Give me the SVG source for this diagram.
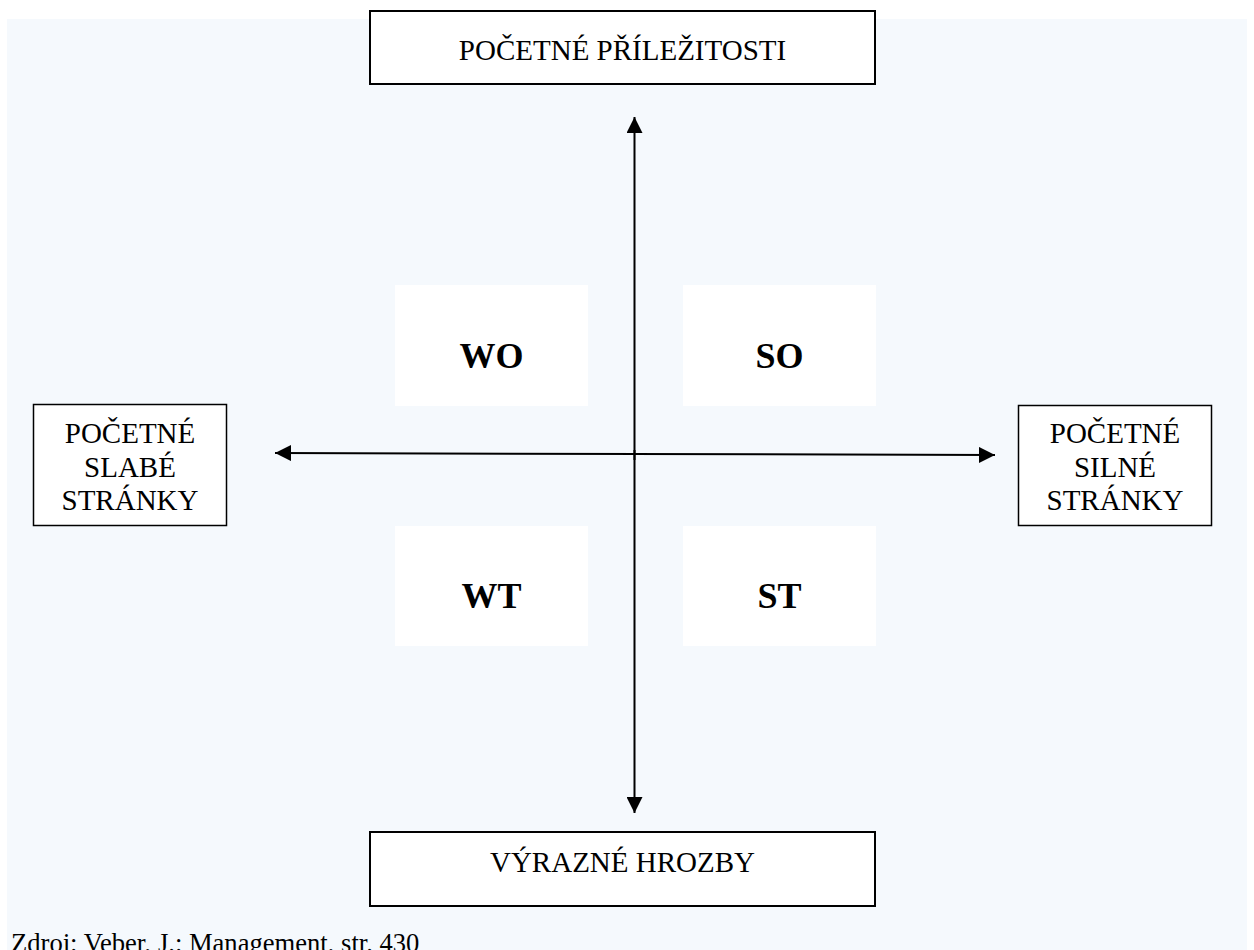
<svg xmlns="http://www.w3.org/2000/svg" width="1254" height="950" viewBox="0 0 1254 950">
  <style>
    .lbl { font-family: "Liberation Serif", "Times New Roman", serif; font-size: 29px; fill: #000; text-anchor: middle; }
    .quad { font-family: "Liberation Serif", "Times New Roman", serif; font-size: 36px; font-weight: bold; fill: #000; text-anchor: middle; }
    .note { font-family: "Liberation Serif", "Times New Roman", serif; font-size: 26.6px; fill: #000; }
    .box { fill: #fff; stroke: #000; }
    .qbox { fill: #fff; stroke: none; }
    .axis { stroke: #000; stroke-width: 2; fill: none; }
  </style>
  <defs>
    <marker id="arrow" markerUnits="userSpaceOnUse" markerWidth="18" markerHeight="16" refX="16" refY="8" orient="auto-start-reverse">
      <path d="M0,0 L16,8 L0,16 Z" fill="#000"/>
    </marker>
  </defs>

  <!-- page background -->
  <rect width="1254" height="950" fill="#fff"/>
  <rect x="7" y="19" width="1240" height="931" fill="#f5f9fd"/>

  <!-- quadrant fields -->
  <g id="quad-wo">
    <rect class="qbox" x="395" y="285" width="193" height="121"/>
    <text class="quad" x="491.5" y="368">WO</text>
  </g>
  <g id="quad-so">
    <rect class="qbox" x="683" y="285" width="193" height="121"/>
    <text class="quad" x="779.5" y="368">SO</text>
  </g>
  <g id="quad-wt">
    <rect class="qbox" x="395" y="526" width="193" height="120"/>
    <text class="quad" x="491.5" y="608">WT</text>
  </g>
  <g id="quad-st">
    <rect class="qbox" x="683" y="526" width="193" height="120"/>
    <text class="quad" x="779.5" y="608">ST</text>
  </g>

  <!-- axes -->
  <g id="connectors">
    <line class="axis" x1="634.5" y1="460" x2="634.5" y2="117" marker-end="url(#arrow)"/>
    <line class="axis" x1="634.5" y1="450" x2="634.5" y2="813" marker-end="url(#arrow)"/>
    <line class="axis" x1="640" y1="454" x2="275" y2="453" marker-end="url(#arrow)"/>
    <line class="axis" x1="630" y1="454" x2="995" y2="455" marker-end="url(#arrow)"/>
  </g>

  <!-- outer boxes -->
  <g id="opportunities">
    <rect class="box" x="370" y="11" width="505" height="73" stroke-width="2"/>
    <text class="lbl" x="622.5" y="60">POČETNÉ PŘÍLEŽITOSTI</text>
  </g>
  <g id="threats">
    <rect class="box" x="370" y="832" width="505" height="74" stroke-width="2"/>
    <text class="lbl" x="622.5" y="872">VÝRAZNÉ HROZBY</text>
  </g>
  <g id="weaknesses">
    <rect class="box" x="33.5" y="404.5" width="193" height="121" stroke-width="1.5"/>
    <text class="lbl" x="130" y="443">POČETNÉ</text>
    <text class="lbl" x="130" y="477">SLABÉ</text>
    <text class="lbl" x="130" y="510">STRÁNKY</text>
  </g>
  <g id="strengths">
    <rect class="box" x="1018.5" y="405.5" width="193" height="120" stroke-width="1.5"/>
    <text class="lbl" x="1115" y="443">POČETNÉ</text>
    <text class="lbl" x="1115" y="477">SILNÉ</text>
    <text class="lbl" x="1115" y="510">STRÁNKY</text>
  </g>

  <!-- source note -->
  <text class="note" x="11" y="952">Zdroj: Veber, J.: Management, str. 430</text>
</svg>
